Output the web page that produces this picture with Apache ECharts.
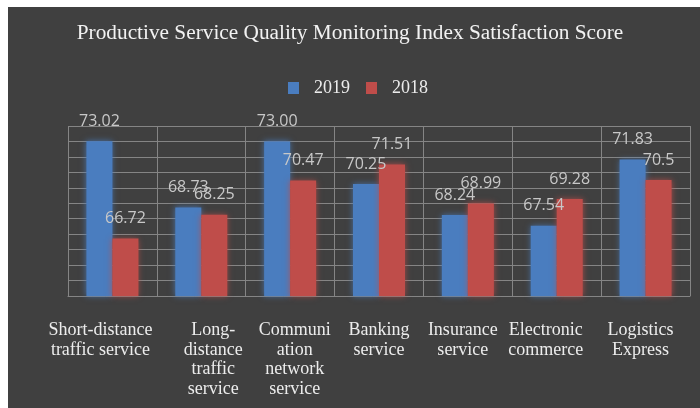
<!DOCTYPE html>
<html>
<head>
<meta charset="utf-8">
<script src="https://cdn.jsdelivr.net/npm/echarts@6/dist/echarts.min.js"></script>
<style>
  html, body { margin: 0; padding: 0; background: #ffffff; }
  #chart { width: 700px; height: 408px; }
</style>
</head>
<body>
<div id="chart"></div>
<script>
const titleText = 'Productive Service Quality Monitoring Index Satisfaction Score';
const categories = [
  'Short-distance\ntraffic service',
  'Long-\ndistance\ntraffic\nservice',
  'Communi\nation\nnetwork\nservice',
  'Banking\nservice',
  'Insurance\nservice',
  'Electronic\ncommerce',
  'Logistics\nExpress'
];
const seriesNames = ['2019', '2018'];
const values2019 = [73.02, 68.73, 73.00, 70.25, 68.24, 67.54, 71.83];
const values2018 = [66.72, 68.25, 70.47, 71.51, 68.99, 69.28, 70.5];
const labels2019 = ['73.02', '68.73', '73.00', '70.25', '68.24', '67.54', '71.83'];
const labels2018 = ['66.72', '68.25', '70.47', '71.51', '68.99', '69.28', '70.5'];

const chart = echarts.init(document.getElementById('chart'), null, { renderer: 'canvas' });

const labelShift = [-12, 12, 4.5, 0, -5, -11, -5];
const rich = {};
labelShift.forEach(function (s, i) {
  rich['o' + i] = {
    fontFamily: '"Liberation Serif", "Times New Roman", serif',
    fontSize: 18,
    lineHeight: 19.5,
    color: '#ececec',
    align: 'center',
    padding: s >= 0 ? [0, 0, 0, 2 * s] : [0, -2 * s, 0, 0]
  };
});

const blue = '#4a7dbf';
const red = '#bf4d4a';

function makeLabel(arr) {
  return {
    show: true,
    position: 'top',
    distance: 12,
    fontFamily: '"Open Sans", "Liberation Sans", sans-serif',
    fontSize: 16,
    color: '#c8c8c8',
    formatter: function (p) { return arr[p.dataIndex]; }
  };
}

chart.setOption({
  backgroundColor: '#ffffff',
  animation: false,
  graphic: [{
    type: 'rect',
    silent: true,
    z: -100,
    shape: { x: 8, y: 7, width: 692, height: 401 },
    style: { fill: '#404040' }
  }],
  title: {
    text: titleText,
    left: 'center',
    top: 18,
    textStyle: {
      fontFamily: '"Liberation Serif", "Times New Roman", serif',
      fontSize: 21.3,
      fontWeight: 'normal',
      color: '#f2f2f2'
    }
  },
  legend: {
    data: seriesNames,
    left: 283,
    top: 74,
    itemWidth: 11,
    itemHeight: 12,
    itemGap: 16,
    icon: 'rect',
    textStyle: {
      fontFamily: '"Liberation Serif", "Times New Roman", serif',
      fontSize: 18,
      color: '#ececec',
      padding: [0, 0, 0, 10]
    }
  },
  grid: { left: 68, right: 10, top: 126, bottom: 112 },
  xAxis: {
    type: 'category',
    data: categories,
    boundaryGap: true,
    axisLine: { show: true, lineStyle: { color: '#858585', width: 1 } },
    axisTick: { show: false },
    splitLine: { show: true, lineStyle: { color: '#858585', width: 1 } },
    axisLabel: {
      interval: 0,
      margin: 25,
      formatter: function (value, index) { return '{o' + index + '|' + value + '}'; },
      rich: rich
    }
  },
  yAxis: {
    type: 'value',
    min: 63,
    max: 74,
    interval: 1,
    axisLabel: { show: false },
    axisLine: { show: false },
    axisTick: { show: false },
    splitLine: { show: true, lineStyle: { color: '#858585', width: 1 } }
  },
  series: [
    {
      name: seriesNames[0],
      type: 'bar',
      data: values2019,
      barWidth: 26,
      barGap: '0%',
      itemStyle: { color: blue, shadowBlur: 6, shadowColor: 'rgba(74,125,191,0.8)' },
      label: makeLabel(labels2019)
    },
    {
      name: seriesNames[1],
      type: 'bar',
      data: values2018,
      barWidth: 26,
      barGap: '0%',
      itemStyle: { color: red, shadowBlur: 6, shadowColor: 'rgba(191,77,74,0.8)' },
      label: makeLabel(labels2018)
    }
  ]
});
</script>
</body>
</html>
